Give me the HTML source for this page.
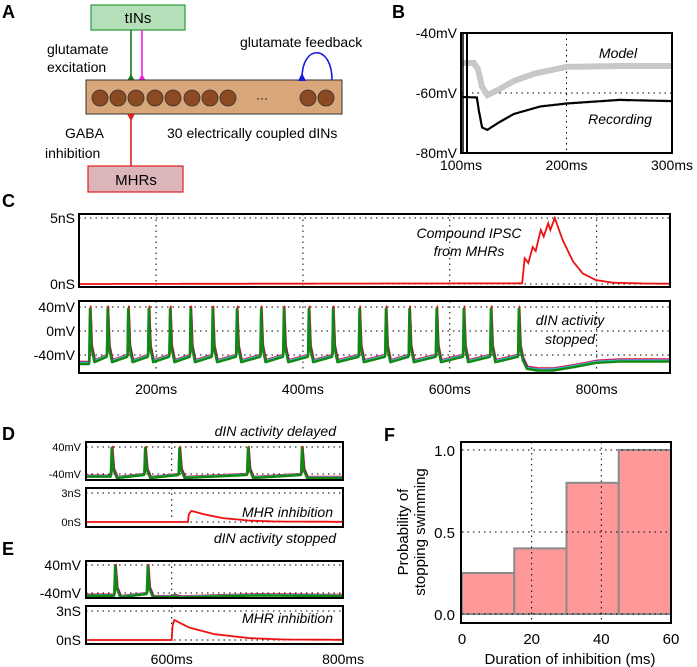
<!DOCTYPE html>
<html><head><meta charset="utf-8"><style>
body{margin:0;background:#fff}
svg{display:block;font-family:"Liberation Sans",sans-serif}
</style></head><body>
<svg id="fig" width="697" height="667" viewBox="0 0 697 667" xmlns="http://www.w3.org/2000/svg">
<defs>
<clipPath id="clipB"><rect x="461" y="33" width="211" height="120"/></clipPath>
<clipPath id="clipCg"><rect x="79" y="214" width="591" height="73"/></clipPath>
<clipPath id="clipCv"><rect x="79" y="301" width="591" height="72"/></clipPath>
<clipPath id="clipDv"><rect x="86" y="442" width="257" height="38"/></clipPath>
<clipPath id="clipDg"><rect x="86" y="488" width="257" height="39"/></clipPath>
<clipPath id="clipEv"><rect x="86" y="561" width="257" height="37"/></clipPath>
<clipPath id="clipEg"><rect x="86" y="606" width="257" height="38"/></clipPath>
</defs>
<g>
<text x="2" y="18" font-size="18" font-weight="bold">A</text>
<rect x="91" y="5" width="94" height="25" fill="#b5dfb9" stroke="#2a9a3a" stroke-width="1.2"/>
<text x="138" y="23" font-size="15" text-anchor="middle">tINs</text>
<line x1="131" y1="30" x2="131" y2="76" stroke="#1a7a1a" stroke-width="1.6"/>
<polygon points="127,81 135,81 131,74" fill="#1a7a1a"/>
<line x1="142" y1="30" x2="142" y2="76" stroke="#ee22ee" stroke-width="1.6"/>
<polygon points="138,81 146,81 142,74" fill="#ee22ee"/>
<rect x="86" y="80" width="256" height="34" fill="#d9a67a" stroke="#333" stroke-width="1"/>
<g id="cells"></g>
<text x="262" y="102" font-size="12" text-anchor="middle">···</text>
<path d="M302,78 C302,44 332,44 332,80" fill="none" stroke="#1a1add" stroke-width="1.6"/>
<polygon points="298,81 306,81 302,73" fill="#1a1add"/>
<line x1="131" y1="118" x2="131" y2="166" stroke="#e02020" stroke-width="1.6"/>
<polygon points="127,114 135,114 131,121" fill="#e02020"/>
<rect x="88" y="166" width="95" height="26" fill="#dbb5b9" stroke="#e02020" stroke-width="1.2"/>
<text x="136" y="185" font-size="15" text-anchor="middle">MHRs</text>
<text x="47" y="54" font-size="14">glutamate</text>
<text x="47" y="72" font-size="14">excitation</text>
<text x="240" y="47" font-size="14">glutamate feedback</text>
<text x="65" y="138" font-size="14">GABA</text>
<text x="45" y="158" font-size="14">inhibition</text>
<text x="167" y="138" font-size="14">30 electrically coupled dINs</text>
</g>
<g id="plots"></g>
</svg>
<script>
// ---------- data ----------
const cellX = [100,118,136,155,173,192,210,228,308,326];
const bModelT = [100,112,116,120,125,135,150,170,200,250,300];
const bModelV = [-50,-50,-52,-58,-60.7,-59,-56,-53.5,-51.3,-51,-51];
const bRecT = [100,115,117,120,125,135,150,175,200,250,300];
const bRecV = [-61.3,-61.5,-66,-71.5,-72.3,-70,-67,-64.5,-63.5,-62.3,-62.7];
const bXTicks = [100,200,300];
const bXLabels = ['100ms','200ms','300ms'];
const bYTicks = [-40,-60,-80];
const bYLabels = ['-40mV','-60mV','-80mV'];
const cSpikes = [110,134,162,190,219,247,277,310,343,374,408,441,477,513,545,582,619,656,694];
const cIpscT = [95,698.6,702,707,713,717,724,728,734,737,743,754,768,781,799,822,869,900];
const cIpscG = [0,0.05,1.95,1.6,2.8,2.5,4.1,3.6,4.6,4.1,5.0,3.3,1.7,0.8,0.3,0.1,0.03,0.02];
const cPostT = [700,705,720,740,770,800,830,900];
const cPostV = [-47,-60,-63,-63,-57,-50,-48,-48];
const cXTicks = [200,400,600,800];
const cXLabels = ['200ms','400ms','600ms','800ms'];
const dSpikes = [530,569,609,689,752];
const dIpscT = [500,619,620,623,640,660,690,720,800];
const dIpscG = [0,0,0.8,1.15,0.75,0.4,0.15,0.05,0.02];
const eSpikes = [534,572];
const eIpscT = [500,600,601,603,620,650,690,730,800];
const eIpscG = [0,0,1.5,2.07,1.3,0.6,0.2,0.05,0.02];
const ePostT = [600,610,650,700,750,800];
const ePostV = [-44,-50,-47,-44,-45,-46];
const deXTicks = [600,800];
const deXLabels = ['600ms','800ms'];
const fEdges = [0,15,30,45];
const fWidth = [15,15,15,15];
const fProb = [0.25,0.4,0.8,1.0];
const fXTicks = [0,20,40,60];
const fYTicks = [0.0,0.5,1.0];
const fYLabels = ['0.0','0.5','1.0'];

// ---------- helpers ----------
const NS='http://www.w3.org/2000/svg';
const root=document.getElementById('plots');
function mk(tag,attrs,parent){const e=document.createElementNS(NS,tag);for(const k in attrs)e.setAttribute(k,attrs[k]);(parent||root).appendChild(e);return e;}
function interp(xs,ys,x){if(x<=xs[0])return ys[0];for(let i=1;i<xs.length;i++){if(x<=xs[i]){const f=(x-xs[i-1])/(xs[i]-xs[i-1]);return ys[i-1]+f*(ys[i]-ys[i-1]);}}return ys[ys.length-1];}
function txt(x,y,s,size,anchor,extra){const e=mk('text',Object.assign({x:x,y:y,'font-size':size,'text-anchor':anchor||'start'},extra||{}));e.textContent=s;return e;}
function vAt(t,spikes,stopT,preV,postT,postV){
  if(t>=stopT)return interp(postT,postV,t);
  for(const s of spikes){
    if(t>=s-1&&t<s)return -38+(t-s+1)*78;
    if(t>=s&&t<s+2)return 40-(t-s)/2*65;
    if(t>=s+2&&t<s+6)return -25-(t-s-2)/4*24;
  }
  let p=null,n=null;
  for(const s of spikes){if(s<=t)p=s;else if(n===null)n=s;}
  if(p===null)return preV;
  if(n===null)return -49;
  const f=(t-p-6)/Math.max(1,(n-1-p-6));return -49+f*9;
}
const traceStyles=[['#e01010',1.0,1],['#cc22cc',0.7,0],['#000',0.4,-1],['#2233cc',0.2,-2],['#33cccc',-0.3,-1],['#118811',0,-3]];
function frame(x,y,w,h,name){const r=mk('rect',{x:x,y:y,width:w,height:h,fill:'none',stroke:'#000','stroke-width':2});return r;}
function grid(x1,y1,x2,y2,name){const l=mk('line',{x1:x1,y1:y1,x2:x2,y2:y2,stroke:'#000','stroke-width':1,'stroke-dasharray':'1.5,4'});return l;}

for(const cx of cellX){
  const c=mk('circle',{cx:cx,cy:98,r:8,fill:'#8b4a22',stroke:'#333','stroke-width':0.8},document.getElementById('cells'));
  
  
}

// ---------- Panel B ----------
const xB=t=>461+(t-100)*1.055, yB=v=>153-(v+80)*3;
let e=txt(392,18,'B',18,'start',{'font-weight':'bold'});


grid(xB(200),33,xB(200),153,'b-grid-x');
grid(461,yB(-60),672,yB(-60),'b-grid-y');
{let d='';for(let t=100;t<=300;t+=1)d+=(t===100?'M':'L')+xB(t).toFixed(1)+','+yB(interp(bModelT,bModelV,t)).toFixed(1);
e=mk('path',{d:d,fill:'none',stroke:'#c8c8c8','stroke-width':6,'clip-path':'url(#clipB)'});

}
{let d='';for(let t=100;t<=300;t+=1)d+=(t===100?'M':'L')+xB(t).toFixed(1)+','+yB(interp(bRecT,bRecV,t)).toFixed(1);
e=mk('path',{d:d,fill:'none',stroke:'#000','stroke-width':2.2,'clip-path':'url(#clipB)'});

}
e=mk('line',{x1:463,y1:33,x2:463,y2:153,stroke:'#000','stroke-width':1.5});


e=mk('line',{x1:467,y1:33,x2:467,y2:153,stroke:'#000','stroke-width':2});


frame(461,33,211,120,'b-plot-frame');
for(let i=0;i<bYTicks.length;i++){e=txt(457,yB(bYTicks[i])+5,bYLabels[i],14,'end');

}
for(let i=0;i<bXTicks.length;i++){e=txt(xB(bXTicks[i]),170,bXLabels[i],14,'middle');

}
e=txt(618,58,'Model',14,'middle',{'font-style':'italic'});


e=txt(620,124,'Recording',14,'middle',{'font-style':'italic'});



function conductancePanel(xf,yf,x0,x1,ts,gs,clip,name){
  let d='';for(let t=x0;t<=x1;t+=0.5)d+=(t===x0?'M':'L')+xf(t).toFixed(1)+','+yf(interp(ts,gs,t)).toFixed(1);
  const p=mk('path',{d:d,fill:'none',stroke:'#ee1111','stroke-width':1.8,'clip-path':'url('+clip+')'});
  
  
}
function voltagePanel(xf,yf,x0,x1,spikes,stopT,preV,postT,postV,clip,name){
  for(const st of traceStyles){
    let d='';
    for(let t=x0;t<=x1;t+=0.5){const v=vAt(t-st[1],spikes,stopT,preV,postT,postV)+st[2];d+=(t===x0?'M':'L')+xf(t).toFixed(1)+','+yf(v).toFixed(1);}
    const p=mk('path',{d:d,fill:'none',stroke:st[0],'stroke-width':st[0]==='#118811'?2.4:1.8,'stroke-linejoin':'round','clip-path':'url('+clip+')'});
    
    
  }
}

// ---------- Panel C ----------
const xC=t=>79+(t-95)*0.7342, yCg=g=>284-g*13.2, yCv=v=>331-v*0.6;
e=txt(2,207,'C',18,'start',{'font-weight':'bold'});


for(const t of cXTicks){grid(xC(t),214,xC(t),287,'c-grid-x');grid(xC(t),301,xC(t),373,'c-grid-x');}
grid(79,218,670,218,'c-grid-5ns');grid(79,284,670,284,'c-grid-0ns');
for(const v of [40,0,-40])grid(79,yCv(v),670,yCv(v),'c-grid-mv');
conductancePanel(xC,yCg,95,900,cIpscT,cIpscG,'#clipCg','ipsc-trace');
voltagePanel(xC,yCv,95,900,cSpikes,700,-52,cPostT,cPostV,'#clipCv','din-voltage-trace');
frame(79,214,591,73,'c-conductance-frame');
frame(79,301,591,72,'c-voltage-frame');
e=txt(75,223,'5nS',14,'end');
e=txt(75,289,'0nS',14,'end');
for(const [v,l] of [[40,'40mV'],[0,'0mV'],[-40,'-40mV']]){e=txt(75,yCv(v)+5,l,14,'end');

}
for(let i=0;i<cXTicks.length;i++){e=txt(xC(cXTicks[i]),394,cXLabels[i],14,'middle');

}
e=txt(469,238,'Compound IPSC',14,'middle',{'font-style':'italic'});
e=txt(469,256,'from MHRs',14,'middle',{'font-style':'italic'});
e=txt(570,325,'dIN activity',14,'middle',{'font-style':'italic'});
e=txt(570,344,'stopped',14,'middle',{'font-style':'italic'});

// ---------- Panels D & E ----------
const xD=t=>86+(t-500)*0.857;
const yDv=v=>460.5-v*0.3375, yDg=g=>522-g*9.67, yEv=v=>579-v*0.35, yEg=g=>640-g*9.67;
e=txt(2,440,'D',18,'start',{'font-weight':'bold'});
e=txt(2,555,'E',18,'start',{'font-weight':'bold'});
for(const [top,h] of [[442,38],[488,39],[561,37],[606,38]])grid(xD(600),top,xD(600),top+h,'de-grid-600');
grid(86,447,343,447,'d-grid');grid(86,474,343,474,'d-grid');grid(86,493,343,493,'d-grid');grid(86,522,343,522,'d-grid');
grid(86,565,343,565,'e-grid');grid(86,593,343,593,'e-grid');grid(86,611,343,611,'e-grid');grid(86,640,343,640,'e-grid');
voltagePanel(xD,yDv,500,800,dSpikes,Infinity,-45,[0],[0],'#clipDv','d-voltage-trace');
conductancePanel(xD,yDg,500,800,dIpscT,dIpscG,'#clipDg','d-ipsc-trace');
voltagePanel(xD,yEv,500,800,eSpikes,602,-45,ePostT,ePostV,'#clipEv','e-voltage-trace');
conductancePanel(xD,yEg,500,800,eIpscT,eIpscG,'#clipEg','e-ipsc-trace');
frame(86,442,257,38,'d-voltage-frame');frame(86,488,257,39,'d-conductance-frame');
frame(86,561,257,37,'e-voltage-frame');frame(86,606,257,38,'e-conductance-frame');
for(const [y,l,s] of [[451,'40mV',11],[478,'-40mV',11],[497,'3nS',11],[526,'0nS',11],[570,'40mV',14],[598,'-40mV',14],[616,'3nS',14],[645,'0nS',14]]){
  e=txt(81,y,l,s,'end');
  
  
}
for(let i=0;i<deXTicks.length;i++){e=txt(xD(deXTicks[i]),664,deXLabels[i],14,'middle');

}
e=txt(336,436,'dIN activity delayed',14,'end',{'font-style':'italic'});
e=txt(333,517,'MHR inhibition',14,'end',{'font-style':'italic'});
e=txt(336,543,'dIN activity stopped',14,'end',{'font-style':'italic'});
e=txt(333,623,'MHR inhibition',14,'end',{'font-style':'italic'});

// ---------- Panel F ----------
const xF=d=>462+d*3.483, yF=p=>614-p*164;
e=txt(384,441,'F',18,'start',{'font-weight':'bold'});
for(let i=0;i<fProb.length;i++){
  const b=mk('rect',{x:xF(fEdges[i]),y:yF(fProb[i]),width:xF(fEdges[i]+fWidth[i])-xF(fEdges[i]),height:yF(0)-yF(fProb[i]),fill:'#ff9999',stroke:'#8a8a8a','stroke-width':2});
  
  
}
for(const d of [20,40])grid(xF(d),442,xF(d),623,'f-grid-x');
for(const p of fYTicks)grid(462,yF(p),671,yF(p),'f-grid-y');
frame(461,442,210,181,'f-plot-frame');
for(let i=0;i<fYTicks.length;i++){e=txt(455,yF(fYTicks[i])+6,fYLabels[i],15,'end');

}
for(const d of fXTicks){e=txt(xF(d),644,String(d),15,'middle');

}
e=txt(570,664,'Duration of inhibition (ms)',15,'middle');
e=txt(0,0,'Probability of',15,'middle',{transform:'translate(408,532) rotate(-90)'});
e=txt(0,0,'stopping swimming',15,'middle',{transform:'translate(425,532) rotate(-90)'});
</script>
</body></html>
